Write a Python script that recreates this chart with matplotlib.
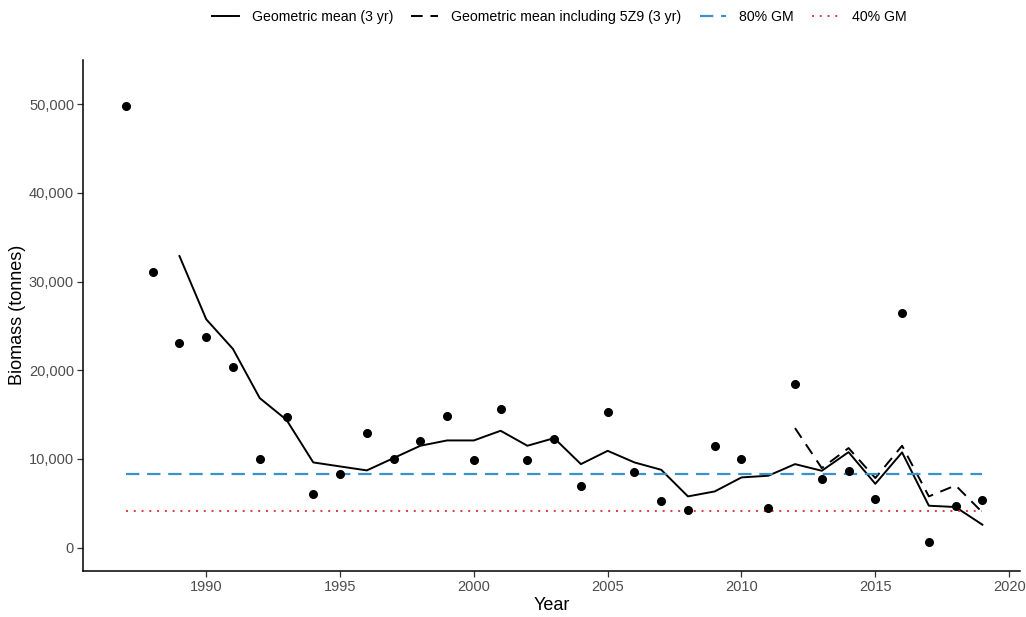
import numpy as np
import matplotlib
matplotlib.use("Agg")
import matplotlib.pyplot as plt
from matplotlib.ticker import FuncFormatter

plt.rcParams['font.family'] = ['Liberation Sans', 'DejaVu Sans']

# annual biomass index (points)
years = list(range(1987, 2020))
biomass = [49800, 31050, 23050, 23700, 20350, 10020, 14720, 6080, 8330, 12980,
           10020, 11970, 14790, 9910, 15650, 9910, 12270, 6900, 15350, 8480,
           5260, 4280, 11450, 9990, 4470, 18470, 7770, 8670, 5480, 26500,
           680, 4650, 5370]

# 3-year geometric mean
gm_years = list(range(1989, 2020))
gm = [32880, 25750, 22400, 16860, 14410, 9610, 9160, 8710, 10100, 11490,
      12090, 12090, 13180, 11490, 12350, 9420, 10920, 9610, 8780, 5780,
      6340, 7920, 8110, 9420, 8670, 10770, 7200, 10740, 4730, 4580, 2590]

# 3-year geometric mean including 5Z9
gm5_years = list(range(2012, 2020))
gm5 = [13480, 8970, 11230, 7850, 11490, 5780, 7020, 3980]

gm80 = 8330
gm40 = 4170

fig = plt.figure(figsize=(10.26, 6.17), dpi=100)
ax = fig.add_axes([0.081, 0.075, 0.913, 0.828])

ax.plot(gm_years, gm, color='black', lw=1.4, label='Geometric mean (3 yr)')
ax.plot(gm5_years, gm5, color='black', lw=1.4, ls=(0, (6, 4)),
        label='Geometric mean including 5Z9 (3 yr)')
ax.plot([years[0], years[-1]], [gm80, gm80], color='#3A92CC', lw=1.6,
        ls=(0, (6, 3.5)), label='80% GM')
ax.plot([years[0], years[-1]], [gm40, gm40], color='#E0393E', lw=1.4,
        ls=(0, (1, 3)), label='40% GM')
ax.plot(years, biomass, 'o', color='black', ms=5.5, zorder=5)

ax.set_xlim(1985.4, 2020.4)
ax.set_ylim(-2600, 55000)
ax.set_xticks([1990, 1995, 2000, 2005, 2010, 2015, 2020])
ax.set_yticks([0, 10000, 20000, 30000, 40000, 50000])
ax.yaxis.set_major_formatter(FuncFormatter(lambda v, p: f'{int(v):,}'))

for s in ['top', 'right']:
    ax.spines[s].set_visible(False)
for s in ['left', 'bottom']:
    ax.spines[s].set_linewidth(1.1)
ax.tick_params(axis='both', direction='out', length=4, width=0.9, pad=2.5,
               labelsize=10.5, labelcolor='#4D4D4D', color='#333333')

ax.set_xlabel('Year', fontsize=13, labelpad=2)
ax.set_ylabel('Biomass (tonnes)', fontsize=13, labelpad=2)

fig.legend(loc='upper center', bbox_to_anchor=(0.545, 1.005), ncol=4,
           frameon=False, fontsize=10.2, handlelength=1.9, handletextpad=0.9,
           columnspacing=1.3)

fig.savefig('out.png', dpi=100)
